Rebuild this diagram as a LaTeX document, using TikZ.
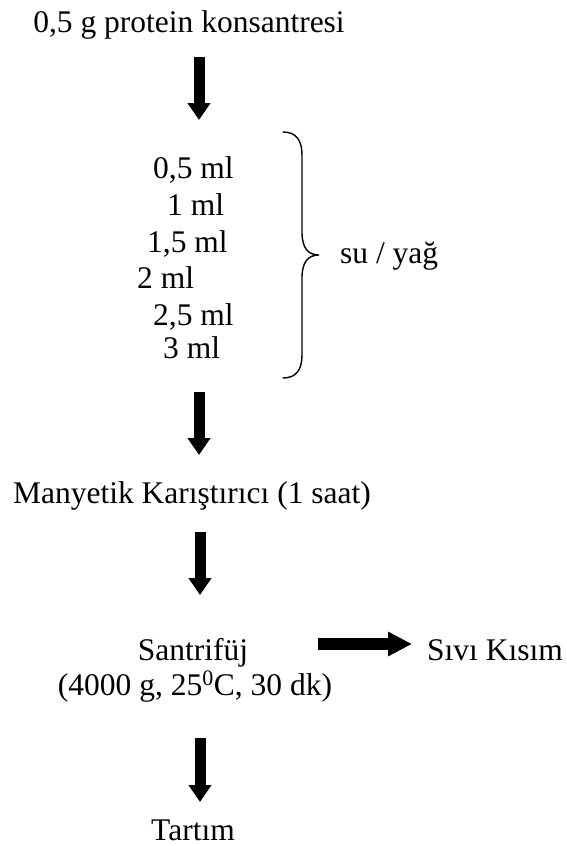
\documentclass[tikz,border=0pt]{standalone}
\usepackage{fontspec}
\setmainfont{Liberation Serif}
\usetikzlibrary{arrows.meta}

\tikzset{
  label text/.style={inner sep=0pt, font=\fontsize{31.5}{36}\selectfont},
  flow arrow/.style={line width=11pt,
    -{Triangle[width=22pt,length=17pt]}},
  side arrow/.style={line width=12pt,
    -{Triangle[width=23pt,length=24pt]}},
  brace line/.style={line width=1.4pt, line cap=round}
}

\begin{document}
\begin{tikzpicture}[x=1pt,y=-1pt]
  \useasboundingbox (0,0) rectangle (566,846);

  % starting material
  \node[label text, anchor=base] (start) at (189,32) {0,5 g protein konsantresi};

  % volumes of water / oil
  \node[label text, anchor=base west] (v1) at (153,178) {0,5 ml};
  \node[label text, anchor=base west] (v2) at (167,215) {1 ml};
  \node[label text, anchor=base west] (v3) at (147,252) {1,5 ml};
  \node[label text, anchor=base west] (v4) at (137,288) {2 ml};
  \node[label text, anchor=base west] (v5) at (153,325) {2,5 ml};
  \node[label text, anchor=base west] (v6) at (163,358) {3 ml};

  % curly brace grouping the volumes
  \coordinate (btop) at (283,132);
  \coordinate (btip) at (319,255);
  \coordinate (bbot) at (283,378);
  \draw[brace line] (btop) .. controls (296,132) and (302,140) .. (302,155)
    -- (302,232) .. controls (302,248) and (308,255) .. (btip)
    .. controls (308,255) and (302,262) .. (302,278)
    -- (302,355) .. controls (302,370) and (296,378) .. (bbot);
  \node[label text, anchor=base west] (liquid) at (340,263) {su / yağ};

  % later steps
  \node[label text, anchor=base] (mix) at (192,503) {Manyetik Karıştırıcı (1 saat)};
  \node[label text, anchor=base] (cent) at (193,660) {Santrifüj};
  \node[label text, anchor=base] (cond) at (195,695) {(4000 g, 25\textsuperscript{0}C, 30 dk)};
  \node[label text, anchor=base west] (liq) at (427,660) {Sıvı Kısım};
  \node[label text, anchor=base] (weigh) at (193,840) {Tartım};

  % arrow end points
  \coordinate (a1s) at (199,57);  \coordinate (a1e) at (199,120);
  \coordinate (a2s) at (199,392); \coordinate (a2e) at (199,455);
  \coordinate (a3s) at (200,532); \coordinate (a3e) at (200,595);
  \coordinate (a4s) at (200,738); \coordinate (a4e) at (200,802);
  \coordinate (hs) at (318,644);  \coordinate (he) at (412,644);

  \draw[flow arrow] (a1s) -- (a1e);
  \draw[flow arrow] (a2s) -- (a2e);
  \draw[flow arrow] (a3s) -- (a3e);
  \draw[flow arrow] (a4s) -- (a4e);
  \draw[side arrow] (hs) -- (he);
\end{tikzpicture}
\end{document}
